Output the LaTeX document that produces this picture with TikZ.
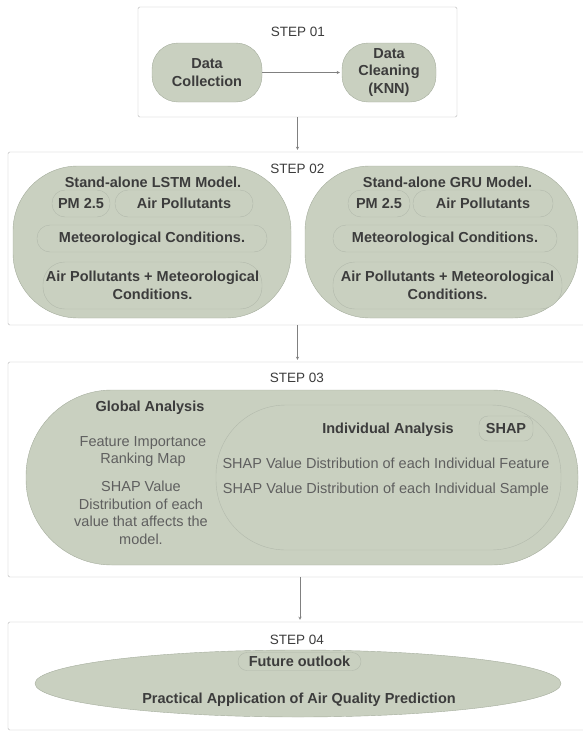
\documentclass[tikz,border=0pt]{standalone}
\usepackage{fontspec}
\setmainfont{Liberation Sans}
\usetikzlibrary{shapes.geometric}
\definecolor{sage}{RGB}{201,208,192}
\definecolor{sageline}{RGB}{165,173,157}
\definecolor{frameline}{RGB}{185,185,185}
\definecolor{inkgray}{RGB}{60,60,60}
\definecolor{softgray}{RGB}{95,95,95}

\begin{document}
\begin{tikzpicture}[shorten >=2pt,x=1pt,y=-1pt]
        \tikzstyle{frame}=[draw=frameline,rounded corners=1.5pt,minimum width=584pt,inner sep=0pt]
        \tikzstyle{blob}=[draw=sageline,fill=sage,inner sep=0pt,text=inkgray,font=\bfseries\fontsize{14.5}{17.5}\selectfont,align=center]
        \tikzstyle{pill}=[blob,draw=sageline!85]
        \tikzstyle{steplabel}=[text=inkgray,font=\fontsize{13.5}{16}\selectfont]
        \tikzstyle{boldtext}=[text=inkgray,font=\bfseries\fontsize{14.5}{17.5}\selectfont,align=center]
        \tikzstyle{plaintext}=[text=softgray,font=\fontsize{14.5}{17.5}\selectfont,align=center]
        \tikzstyle{edge}=[draw=gray,->,>=stealth]
        \clip (0,0) rectangle (583,731);
       % step 01
       \begin{scope}
         \node [frame,minimum width=319pt,minimum height=110pt] (step1) at (297.5,62) {};
         \node [steplabel] (lab1) at (298,32) {STEP 01};
         \node [blob,rounded corners=26pt,minimum width=110pt,minimum height=59pt] (collect) at (207,72.5) {Data\\Collection};
         \node [blob,rounded corners=26pt,minimum width=94pt,minimum height=59pt] (clean) at (389,72.5) {Data\\Cleaning\\(KNN)};
         \path (collect) edge [edge] (clean);
        \end{scope}
       % step 02
       \begin{scope}
         \node [frame,minimum height=173pt] (step2) at (300,238.5) {};
         \node [steplabel] (lab2) at (297.5,169) {STEP 02};
         \node [blob,rounded corners=65pt,minimum width=278pt,minimum height=152pt] (lstm) at (152,242) {};
         \node [boldtext] (lstmname) at (153,182) {Stand-alone LSTM Model.};
         \node [pill,rounded corners=13pt,minimum width=58pt,minimum height=27pt] (lpm) at (81,203.5) {PM 2.5};
         \node [pill,rounded corners=13pt,minimum width=138pt,minimum height=27pt] (lair) at (184,203.5) {Air Pollutants};
         \node [pill,rounded corners=13pt,minimum width=230pt,minimum height=27pt] (lmet) at (152,238.5) {Meteorological Conditions.};
         \node [pill,rounded corners=22pt,minimum width=219pt,minimum height=47pt] (lboth) at (152.5,285.5) {Air Pollutants + Meteorological\\Conditions.};
         \node [blob,rounded corners=65pt,minimum width=273pt,minimum height=152pt] (gru) at (441.5,242) {};
         \node [boldtext] (gruname) at (447.5,182) {Stand-alone GRU Model.};
         \node [pill,rounded corners=13pt,minimum width=62pt,minimum height=27pt] (gpm) at (379,203.5) {PM 2.5};
         \node [pill,rounded corners=13pt,minimum width=140pt,minimum height=27pt] (gair) at (483,203.5) {Air Pollutants};
         \node [pill,rounded corners=13pt,minimum width=224pt,minimum height=27pt] (gmet) at (445,238.5) {Meteorological Conditions.};
         \node [pill,rounded corners=22pt,minimum width=229pt,minimum height=47pt] (gboth) at (447.5,285.5) {Air Pollutants + Meteorological\\Conditions.};
        \end{scope}
       % step 03
       \begin{scope}
         \node [frame,minimum height=215pt] (step3) at (300,469.5) {};
         \node [steplabel] (lab3) at (297,378) {STEP 03};
         \node [blob,rounded corners=86pt,minimum width=552pt,minimum height=175pt] (global) at (302,477.5) {};
         \node [boldtext] (globalname) at (150,408) {Global Analysis};
         \node [plaintext] (ranking) at (143,451.5) {Feature Importance\\Ranking Map};
         \node [plaintext] (valuedist) at (141,513) {SHAP Value\\Distribution of each\\value that affects the\\model.};
         \node [pill,rounded corners=70pt,minimum width=345pt,minimum height=145pt] (indiv) at (388.5,477.5) {};
         \node [boldtext] (indivname) at (388,430) {Individual Analysis};
         \node [pill,rounded corners=9pt,minimum width=54pt,minimum height=25pt] (shap) at (506,428.5) {SHAP};
         \node [plaintext] (featdist) at (386,463) {SHAP Value Distribution of each Individual Feature};
         \node [plaintext] (sampdist) at (386,490) {SHAP Value Distribution of each Individual Sample};
        \end{scope}
       % step 04
       \begin{scope}
         \node [frame,minimum height=108pt] (step4) at (300,676) {};
         \node [steplabel] (lab4) at (297,640) {STEP 04};
         \node [blob,ellipse,minimum width=526pt,minimum height=67pt] (apply) at (298,683.5) {};
         \node [pill,rounded corners=9pt,minimum width=123pt,minimum height=18pt] (outlook) at (299.5,661.5) {Future outlook};
         \node [boldtext] (practical) at (299,700) {Practical Application of Air Quality Prediction};
        \end{scope}
       % flow between the steps
         \path (step1.south) edge [edge] (step1.south |- step2.north);
         \path (step2.south -| step1.south) edge [edge] (step3.north -| step1.south);
         \path (step3.south) edge [edge] (step4.north);
      \end{tikzpicture}
\end{document}
